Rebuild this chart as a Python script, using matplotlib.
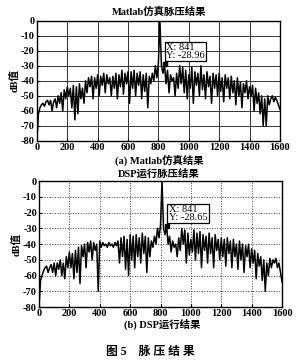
import numpy as np
import matplotlib.pyplot as plt

# sample index (every 10th sample of the 1600-point compressed pulse)
samples = np.arange(0, 1601, 10)

# Matlab simulation result, dB
matlab_db = [
    -80, -62, -58, -56, -55, -57, -54, -53, -56, -53,
    -60, -54, -52, -58, -50, -55, -48, -60, -46, -52,
    -44, -50, -45, -58, -43, -66, -44, -62, -42, -52,
    -45, -55, -40, -48, -38, -44, -37, -52, -38, -45,
    -36, -50, -37, -43, -35, -48, -36, -42, -38, -50,
    -37, -45, -35, -52, -36, -44, -33, -49, -35, -42,
    -34, -55, -34, -45, -33, -50, -35, -43, -34, -52,
    -36, -47, -35, -58, -37, -42, -35, -40, -30, -38,
    -28, 0, -30, -35, -29, -42, -33, -48, -36, -40,
    -38, -50, -35, -45, -30, -42, -31, -48, -33, -52,
    -36, -45, -31, -55, -34, -43, -35, -50, -30, -46,
    -36, -52, -34, -44, -37, -55, -35, -45, -36, -50,
    -35, -47, -38, -54, -36, -45, -38, -52, -37, -48,
    -40, -56, -38, -50, -41, -58, -42, -48, -40, -52,
    -44, -50, -43, -60, -45, -55, -48, -62, -50, -70,
    -52, -70, -50, -56, -52, -50, -54, -51, -53, -56,
    -59,
]

# DSP run result, dB
dsp_db = [
    -80, -63, -60, -57, -55, -54, -58, -55, -53, -58,
    -52, -60, -52, -56, -50, -60, -52, -62, -48, -55,
    -45, -55, -46, -62, -44, -58, -42, -65, -41, -48,
    -40, -55, -39, -45, -38, -50, -39, -44, -40, -70,
    -38, -42, -39, -41, -40, -42, -39, -41, -40, -42,
    -39, -41, -38, -52, -36, -48, -35, -56, -37, -60,
    -34, -50, -35, -55, -34, -48, -36, -52, -33, -46,
    -35, -58, -36, -48, -38, -42, -35, -40, -30, -36,
    -28, 0, -30, -34, -28, -40, -35, -45, -38, -42,
    -40, -48, -36, -44, -30, -40, -31, -52, -33, -47,
    -37, -45, -31, -50, -33, -46, -32, -55, -34, -44,
    -35, -52, -33, -46, -36, -55, -34, -44, -37, -50,
    -36, -48, -37, -54, -36, -46, -38, -55, -37, -48,
    -40, -56, -38, -50, -40, -58, -41, -48, -40, -55,
    -43, -52, -44, -62, -46, -54, -48, -63, -50, -70,
    -52, -60, -49, -55, -50, -52, -49, -55, -52, -58,
    -64,
]

tip_x = 841
tip_y_matlab = -28.96
tip_y_dsp = -28.65

xticks = [0, 200, 400, 600, 800, 1000, 1200, 1400, 1600]
yticks = [0, -10, -20, -30, -40, -50, -60, -70, -80]

FAM = ['Liberation Serif', 'Noto Sans CJK SC']
plt.rcParams['font.family'] = FAM
plt.rcParams['font.weight'] = 'bold'
plt.rcParams['axes.unicode_minus'] = False

fig = plt.figure(figsize=(3.0, 3.63), dpi=100)


def panel(rect, ydata, tip_y, grid_style):
    ax = fig.add_axes(rect)
    ax.plot(samples, ydata, color='black', lw=1.1)
    ax.set_xlim(0, 1600)
    ax.set_ylim(-80, 0)
    ax.set_xticks(xticks)
    ax.set_yticks(yticks)
    ax.tick_params(labelsize=7.5, length=2, direction='in', pad=1.5)
    for lab in ax.get_xticklabels() + ax.get_yticklabels():
        lab.set_fontweight('bold')
    ax.grid(True, color='#333333', lw=0.7, ls=grid_style)
    for s in ax.spines.values():
        s.set_linewidth(1.0)
    ax.set_ylabel('dB值', fontsize=7.5, labelpad=1, family=FAM, fontweight='bold')
    # data tip
    ax.plot([tip_x], [tip_y], marker='s', ms=3.5, color='black')
    ax.text(tip_x + 12, -20.5, 'X: %d\nY: %.2f' % (tip_x, tip_y), fontsize=7.5,
            family=FAM, fontweight='normal', va='center', ha='left', linespacing=0.85,
            bbox=dict(boxstyle='square,pad=0.12', fc='white', ec='black', lw=0.9))
    return ax


panel([0.123, 0.612, 0.81, 0.331], matlab_db, tip_y_matlab, '-')
panel([0.13, 0.154, 0.81, 0.347], dsp_db, tip_y_dsp, ':')

fig.text(0.53, 0.967, 'Matlab仿真脉压结果', ha='center', va='center', fontsize=7.5, fontweight='bold')
fig.text(0.53, 0.559, '(a) Matlab仿真结果', ha='center', va='center', fontsize=7.5, fontweight='bold')
fig.text(0.53, 0.523, 'DSP运行脉压结果', ha='center', va='center', fontsize=7.5, fontweight='bold')
fig.text(0.54, 0.107, '(b) DSP运行结果', ha='center', va='center', fontsize=7.5, fontweight='bold')
fig.text(0.5, 0.03, '图 5    脉 压 结 果', ha='center', va='center', fontsize=8.5, fontweight='bold')

fig.savefig('out.png', dpi=100)
